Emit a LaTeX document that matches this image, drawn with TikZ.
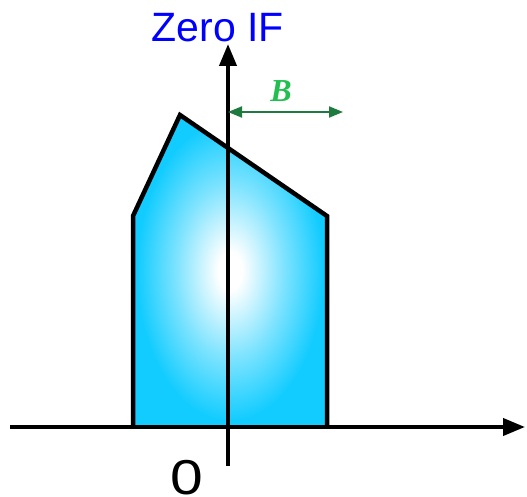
\documentclass[tikz,border=0pt]{standalone}
\usepackage{fontspec}
\setmainfont{Liberation Sans}
\newfontfamily\blabelfont{Liberation Serif}
\usetikzlibrary{arrows.meta}
\definecolor{fillcyan}{RGB}{18,204,255}
\definecolor{arrgreen}{RGB}{30,122,62}
\definecolor{lblgreen}{RGB}{34,190,80}
\definecolor{ifblue}{RGB}{0,0,255}
\pgfdeclareradialshading{specshade}{\pgfpoint{0bp}{0bp}}{%
  color(0bp)=(white); color(3bp)=(white); color(14bp)=(fillcyan!55); color(24bp)=(fillcyan); color(50bp)=(fillcyan)}
\tikzset{
  axis/.style={line width=4pt, -{Triangle[length=22pt,width=17pt]}},
  outline/.style={line width=4.5pt, line join=miter, draw=black},
  bwidth/.style={draw=arrgreen, line width=2pt, {Triangle[length=14pt,width=11pt]}-{Triangle[length=14pt,width=11pt]}},
}
\begin{document}
\begin{tikzpicture}[x=1pt,y=-1pt]
\useasboundingbox (0,0) rectangle (527,497);
% polygon spectrum
\coordinate (p1) at (133,427);
\coordinate (p2) at (133,216);
\coordinate (p3) at (180,115);
\coordinate (p4) at (327,216);
\coordinate (p5) at (327,427);
\shade[shading=specshade] (p1) -- (p2) -- (p3) -- (p4) -- (p5) -- cycle;
\draw[outline] (p1) -- (p2) -- (p3) -- (p4) -- (p5);
% axes
\coordinate (xs) at (10,427);
\coordinate (xe) at (525,427);
\coordinate (ys) at (228,466);
\coordinate (ye) at (228,44);
\draw[axis] (xs) -- (xe);
\draw[axis] (ys) -- (ye);
% bandwidth arrow
\coordinate (b1) at (228,112);
\coordinate (b2) at (343,112);
\draw[bwidth] (b1) -- (b2);
\node[text=lblgreen, font=\blabelfont\bfseries\itshape\fontsize{32}{36}\selectfont, anchor=base] (blabel) at (281,102) {B};
% labels
\node[text=ifblue, font=\fontsize{41}{48}\selectfont, anchor=base] (title) at (218,42) {Zero IF};
\node[font=\fontsize{49}{56}\selectfont, anchor=base, xscale=1.2, inner sep=0pt] (zero) at (187,494) {0};
\end{tikzpicture}
\end{document}
